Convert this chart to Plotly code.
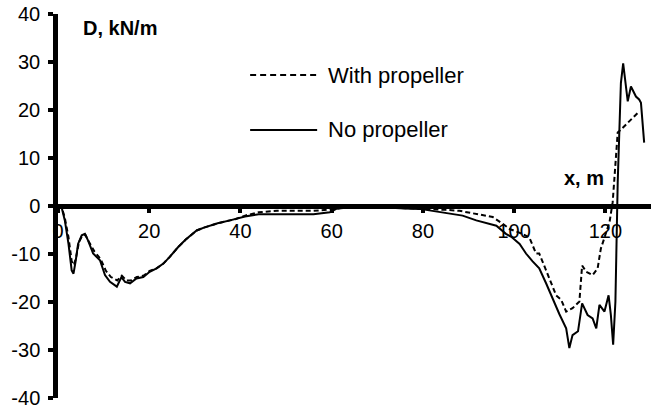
import plotly.graph_objects as go

# ---- data ----
x_no = [0, 0.8, 1.5, 2.3, 3.0, 3.4, 3.9, 4.4, 5.2, 5.9, 6.6, 7.7, 9.2, 10.3, 11.4, 12.9, 13.9, 14.7,
        15.8, 17.2, 18.7, 20.1, 21.6, 23.1, 24.5, 26.3, 28, 30.4, 32, 35, 37.7, 39, 41, 44, 48, 52,
        56, 59.6, 61, 62.5, 65, 68, 70, 73, 76, 79.3, 82, 84.4, 86.5, 88.7, 91.7, 94, 96.1, 98.2,
        99.5, 101.2, 102.6, 104, 105.5, 107, 108.5, 109.9, 111.4, 112.1, 112.8, 114, 114.9, 116.1,
        117.2, 118, 118.7, 119.8, 120.7, 121.2, 121.7, 122.2, 122.7, 123.4, 123.9, 124.5, 124.9,
        125.6, 126.7, 127.4, 127.8, 128.5]
d_no = [0, -0.3, -3, -7.9, -13.4, -14.1, -11.3, -7.9, -6.1, -5.8, -7.2, -9.9, -11.3, -14.4, -15.8,
        -16.8, -14.8, -15.8, -16.1, -15.1, -14.8, -13.7, -13, -12, -10.6, -8.6, -7.0, -5.1, -4.5,
        -3.6, -3.0, -2.7, -2.2, -1.7, -1.7, -1.6, -1.7, -1.3, -0.6, -0.4, -0.3, -0.1, -0.2, -0.4,
        -0.5, -0.6, -1.0, -1.3, -1.6, -2.0, -3.0, -3.5, -4.1, -5.8, -6.5, -7.9, -9.9, -11.5, -13,
        -16.1, -19.6, -22.5, -25.5, -29.6, -26.9, -26.1, -20.3, -22.7, -23.4, -25.5, -20.6, -22,
        -18.6, -22.7, -28.9, -19.9, 4.9, 25.6, 29.7, 25.6, 21.8, 24.9, 22.8, 22.2, 21.5, 13.2]

x_with = [0, 0.8, 1.5, 2.3, 3.0, 3.5, 4.0, 4.6, 5.3, 6.0, 6.8, 8.0, 9.3, 10.5, 11.6, 13.0, 14.0,
          15.0, 16.0, 17.3, 18.8, 20.1, 21.6, 23.1, 24.5, 26.3, 28, 30.4, 32, 35, 37.7, 39, 41, 44,
          48, 52, 56, 60, 62, 65, 68, 70, 73, 76, 79, 82, 85, 88, 91.7, 95.3, 97.5, 99, 101, 103.3,
          104.8, 105.5, 107, 108.5, 109.2, 110.3, 111.4, 112.8, 114.3, 114.9, 115.8, 117.2, 118.3,
          119, 120.9, 121.6, 122.7, 123.4, 125.2, 127.4]
d_with = [0, -0.2, -2.5, -6.5, -11.5, -12.3, -10.5, -7.5, -6.2, -6.0, -7.5, -9.5, -11, -13.5,
          -14.8, -15.5, -14.5, -15.5, -15.5, -14.8, -14.5, -13.5, -13, -12, -10.6, -8.6, -7, -5.1,
          -4.5, -3.6, -3.0, -2.7, -2.0, -1.3, -1.0, -1.0, -1.0, -0.7, -0.4, -0.2, -0.1, -0.2, -0.3,
          -0.4, -0.5, -0.6, -0.8, -1.0, -1.7, -2.3, -3.7, -4.8, -5.5, -6.5, -9.9, -9.9, -13.4,
          -16.8, -18.6, -19.5, -22, -21.3, -19.9, -12.4, -13.7, -14.4, -13, -8.9, -3.4, 0.8, 15.3,
          15.9, 17.7, 19.7]

x_ticks = [0, 20, 40, 60, 80, 100, 120]
y_ticks = [-40, -30, -20, -10, 0, 10, 20, 30, 40]
series_names = ["With propeller", "No propeller"]

FONT = "Liberation Sans, Arial, sans-serif"

fig = go.Figure()
fig.add_trace(go.Scatter(x=x_with, y=d_with, mode="lines", name=series_names[0],
                         line=dict(color="black", width=2, dash="5px,3px"), showlegend=False))
fig.add_trace(go.Scatter(x=x_no, y=d_no, mode="lines", name=series_names[1],
                         line=dict(color="black", width=2), showlegend=False))

# manual legend (samples + labels)
leg = [(0.841, "6px,4px", series_names[0]), (0.698, "solid", series_names[1])]
for yy, dash, name in leg:
    fig.add_shape(type="line", xref="paper", yref="paper", x0=0.324, x1=0.437, y0=yy, y1=yy,
                  line=dict(color="black", width=2, dash=dash))
    fig.add_annotation(xref="paper", yref="paper", x=0.452, y=yy, text=name, showarrow=False,
                       xanchor="left", yanchor="middle", font=dict(size=22, color="black", family=FONT))

fig.add_annotation(xref="paper", yref="paper", x=0.038, y=0.964, text="<b>D, kN/m</b>",
                   showarrow=False, xanchor="left", yanchor="middle",
                   font=dict(size=20, color="black", family=FONT))
fig.add_annotation(xref="paper", yref="paper", x=0.85, y=0.573, text="<b>x, m</b>",
                   showarrow=False, xanchor="left", yanchor="middle",
                   font=dict(size=20, color="black", family=FONT))

fig.update_layout(
    width=654, height=413,
    margin=dict(l=58, r=3, t=14, b=15),
    paper_bgcolor="white", plot_bgcolor="white",
    font=dict(family=FONT, size=20, color="black"),
    showlegend=False,
    xaxis=dict(range=[0, 130], tickvals=x_ticks, ticktext=[str(v) for v in x_ticks],
               showgrid=False, zeroline=False, showline=True, linecolor="black", linewidth=4.5,
               ticks="outside", ticklen=4, tickwidth=4, tickcolor="black",
               anchor="free", position=0.5, ticklabelstandoff=1,
               tickfont=dict(size=20, family=FONT, color="black")),
    yaxis=dict(range=[-40, 40], tickvals=y_ticks, ticktext=[str(v) for v in y_ticks],
               showgrid=False, zeroline=False, showline=True, linecolor="black", linewidth=4.5,
               ticks="outside", ticklen=5, tickwidth=4, tickcolor="black",
               ticklabelstandoff=4,
               tickfont=dict(size=20, family=FONT, color="black")),
)

fig.write_html("out.html", config={"displayModeBar": False},
               post_script="document.body.style.margin='0';document.body.style.overflow='hidden';")
